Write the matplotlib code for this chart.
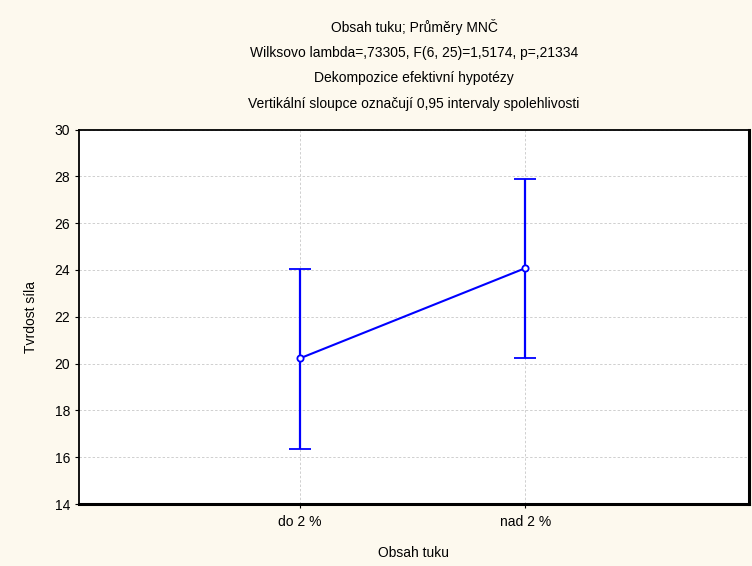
import numpy as np
import matplotlib.pyplot as plt

categories = ["do 2 %", "nad 2 %"]
means = np.array([20.22, 24.08])
lower = np.array([16.35, 20.22])
upper = np.array([24.02, 27.90])

title_lines = [
    "Obsah tuku; Průměry MNČ",
    "Wilksovo lambda=,73305, F(6, 25)=1,5174, p=,21334",
    "Dekompozice efektivní hypotézy",
    "Vertikální sloupce označují 0,95 intervaly spolehlivosti",
]

plt.rcParams.update({
    "font.family": ["Liberation Sans", "DejaVu Sans"],
    "font.size": 10,
})

bg = "#FDF9EE"
fig = plt.figure(figsize=(7.52, 5.66), dpi=100, facecolor=bg)
ax = fig.add_axes([78.5 / 752, 62 / 566, (749 - 78.5) / 752, (504 - 129.5) / 566])
ax.set_facecolor("white")

x = np.arange(1, len(categories) + 1)
yerr = np.vstack([means - lower, upper - means])
ax.errorbar(x, means, yerr=yerr, color="#0000FF", lw=1.5, elinewidth=1.6,
            capsize=8, capthick=1.6, marker="o", ms=4.5, mfc="white",
            mec="#0000FF", mew=1.3, zorder=3)

ax.set_xlim(0.02, 2.99)
ax.set_ylim(14, 30)
ax.set_yticks(np.arange(14, 31, 2))
ax.set_xticks(x)
ax.set_xticklabels(categories)
ax.grid(True, color="#cfcfcf", ls=(0, (2.5, 2)), lw=0.7)
ax.tick_params(direction="out", length=3, width=0.8, pad=5)
ax.tick_params(axis="y", pad=3)

for s in ["left", "top"]:
    ax.spines[s].set_linewidth(1.3)
for s in ["right", "bottom"]:
    ax.spines[s].set_linewidth(2.2)

ax.set_ylabel("Tvrdost síla", labelpad=12)
ax.set_xlabel("Obsah tuku", labelpad=12)

for i, t in enumerate(title_lines):
    fig.text(414 / 752, 1 - (27 + i * 25.7) / 566, t, ha="center", va="center")

fig.savefig("out.png", dpi=100, facecolor=bg)
